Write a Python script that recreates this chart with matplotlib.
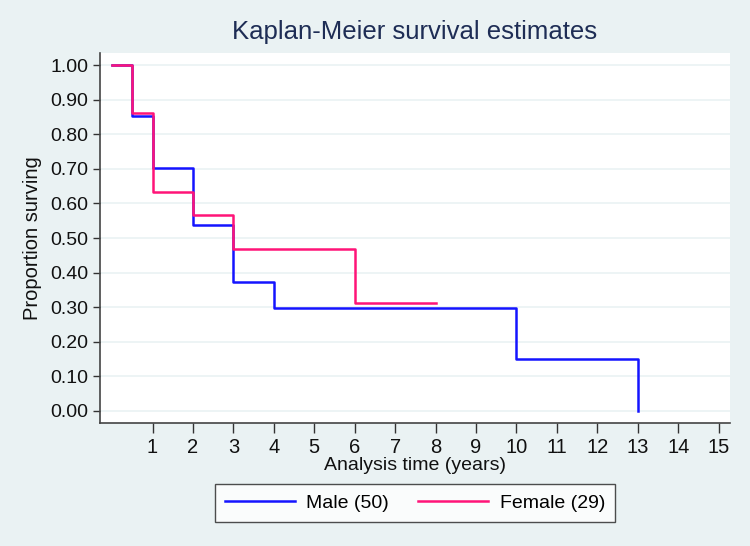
import numpy as np
import matplotlib
matplotlib.use("Agg")
import matplotlib.pyplot as plt

plt.rcParams["font.family"] = ["Liberation Sans", "DejaVu Sans"]

# Kaplan-Meier step values
male_t = [0, 0.5, 1, 2, 3, 4, 10, 13]
male_s = [1.0, 0.853, 0.703, 0.538, 0.372, 0.297, 0.149, 0.0]
female_t = [0, 0.5, 1, 2, 3, 6, 8]
female_s = [1.0, 0.862, 0.634, 0.567, 0.468, 0.312, 0.312]

male_label = "Male (50)"
female_label = "Female (29)"
y_ticks = np.arange(0, 1.01, 0.1)
x_ticks = list(range(1, 16))

bg = "#EAF2F3"
fig = plt.figure(figsize=(7.5, 5.46), dpi=100, facecolor=bg)
ax = fig.add_axes([0.1333, 0.2253, 0.84, 0.6776])
ax.set_facecolor("white")

ax.step(male_t, male_s, where="post", color="#1414FF", lw=1.8, label=male_label, zorder=3)
ax.step(female_t, female_s, where="post", color="#FF1478", lw=1.8, label=female_label, zorder=4)

ax.set_xlim(-0.3, 15.28)
ax.set_ylim(-0.035, 1.035)
ax.set_yticks(y_ticks)
ax.set_yticklabels([f"{v:.2f}" for v in y_ticks])
ax.set_xticks(x_ticks)
ax.set_xticklabels([str(v) for v in x_ticks])
ax.tick_params(axis="both", labelsize=14, length=5, width=1, color="#333333", labelcolor="#111111")
ax.tick_params(axis="x", length=7, labelsize=14.5)
ax.grid(axis="y", color=bg, lw=1.2)
ax.set_axisbelow(True)
for s in ["top", "right"]:
    ax.spines[s].set_visible(False)
for s in ["left", "bottom"]:
    ax.spines[s].set_color("#444444")
    ax.spines[s].set_linewidth(1.2)

ax.set_ylabel("Proportion surving", fontsize=14.5, color="#111111", labelpad=6)
ax.set_xlabel("Analysis time (years)", fontsize=14, color="#111111", labelpad=0)
ax.set_title("Kaplan-Meier survival estimates", fontsize=18.5, color="#1E2D55", pad=10)

leg = fig.legend(loc="center", bbox_to_anchor=(415 / 750, 1 - 503 / 546), ncol=2,
                 fontsize=14, frameon=True, fancybox=False, edgecolor="#222222",
                 handlelength=3.6, handletextpad=0.6, columnspacing=1.5,
                 borderpad=0.5)
leg.get_frame().set_linewidth(1.0)

fig.savefig("out.png", dpi=100, facecolor=bg)
